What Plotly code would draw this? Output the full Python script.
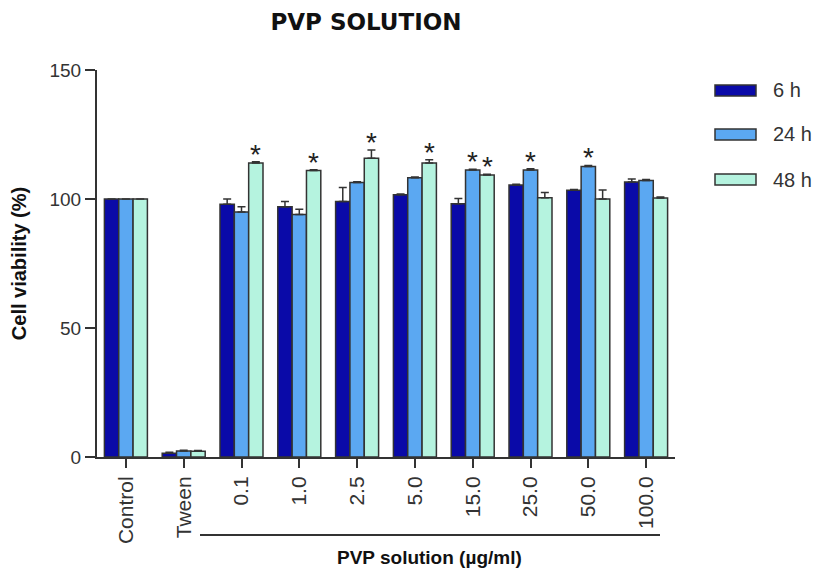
import plotly.graph_objects as go

categories = ["Control", "Tween", "0.1", "1.0", "2.5", "5.0", "15.0", "25.0", "50.0", "100.0"]
series_names = ["6 h", "24 h", "48 h"]

v_6h = [100, 1.5, 98, 97, 99, 101.6, 98.2, 105.4, 103.4, 106.6]
v_24h = [100, 2.3, 95, 94, 106.4, 108.2, 111.2, 111.2, 112.6, 107.2]
v_48h = [100, 2.2, 114, 111, 115.8, 114, 109.3, 100.5, 100, 100.4]

e_6h = [0, 0.3, 2.0, 2.0, 5.5, 0.3, 2.0, 0.3, 0.3, 1.2]
e_24h = [0, 0.3, 2.0, 2.0, 0.3, 0.3, 0.3, 0.5, 0.4, 0.4]
e_48h = [0, 0.3, 0.4, 0.3, 3.2, 1.2, 0.3, 2.0, 3.5, 0.4]

star_6h = [False] * 10
star_24h = [False, False, False, False, False, False, True, True, True, False]
star_48h = [False, False, True, True, True, True, True, False, False, False]

y_ticks = [0, 50, 100, 150]

colors = ["#0a0aa8", "#5ba8f2", "#b5f3df"]
values = [v_6h, v_24h, v_48h]
errors = [e_6h, e_24h, e_48h]
stars = [star_6h, star_24h, star_48h]

# the page body adds an 8px offset; work in screen pixels and compensate
OFF = 8
W, H = 823 - OFF, 576 - OFF
PX_L, PX_R, PX_T, PX_B = 97, 675, 70, 457  # plot area in screen pixels
L, T = PX_L - OFF, PX_T - OFF
R, B = W - (PX_R - OFF), H - (PX_B - OFF)
plot_w = PX_R - PX_L
plot_h = PX_B - PX_T
BARGAP = 0.256
FONT = "Liberation Sans, Arial, sans-serif"
DARK = "#333333"

fig = go.Figure()
for name, vals, errs, col in zip(series_names, values, errors, colors):
    fig.add_trace(go.Bar(
        x=categories, y=vals, name=name,
        marker=dict(color=col, line=dict(color=DARK, width=1.5)),
        error_y=dict(type="data", array=errs, arrayminus=[0] * len(errs),
                     symmetric=False, color=DARK, thickness=1.5, width=4),
        showlegend=False,
    ))

# asterisks
px_per_cat = plot_w / len(categories)
bar_w = (1 - BARGAP) / 3 * px_per_cat
annotations = []
for si, (vals, errs, st) in enumerate(zip(values, errors, stars)):
    for ci in range(len(categories)):
        if st[ci]:
            annotations.append(dict(
                x=ci, y=vals[ci] + errs[ci], xref="x", yref="y",
                text="*", showarrow=False, yanchor="bottom",
                xshift=(si - 1) * bar_w, yshift=-10,
                font=dict(family=FONT, size=28, color="#222222"),
            ))

# manual legend
def px2paper_x(px):
    return (px - PX_L) / plot_w

def px2paper_y(py):
    return (PX_B - py) / plot_h

shapes = []
legend_rows = [(85, 96), (129, 140), (174, 185)]
for (y0, y1), col, name in zip(legend_rows, colors, series_names):
    shapes.append(dict(type="rect", xref="paper", yref="paper",
                       x0=px2paper_x(715), x1=px2paper_x(756),
                       y0=px2paper_y(y1), y1=px2paper_y(y0),
                       fillcolor=col, line=dict(color=DARK, width=1.5)))
    annotations.append(dict(x=px2paper_x(771), y=px2paper_y((y0 + y1) / 2),
                            xref="paper", yref="paper", text=name, showarrow=False,
                            xanchor="left", yanchor="middle",
                            font=dict(family=FONT, size=20, color=DARK)))

# bracket under PVP groups
shapes.append(dict(type="line", xref="paper", yref="paper",
                   x0=px2paper_x(200), x1=px2paper_x(660),
                   y0=px2paper_y(535), y1=px2paper_y(535),
                   line=dict(color=DARK, width=2)))
annotations.append(dict(x=px2paper_x(429), y=px2paper_y(557), xref="paper", yref="paper",
                        text="<b>PVP solution (µg/ml)</b>", showarrow=False,
                        xanchor="center", yanchor="middle",
                        font=dict(family=FONT, size=19, color="#111111")))

fig.update_layout(
    width=W, height=H,
    margin=dict(l=L, r=R, t=T, b=B, autoexpand=False),
    paper_bgcolor="white", plot_bgcolor="white",
    barmode="group", bargap=BARGAP, bargroupgap=0,
    title=dict(text="<b>PVP SOLUTION</b>", x=(366 - OFF) / W, xanchor="center",
               y=1 - (22 - OFF) / H, yanchor="middle",
               font=dict(family="DejaVu Sans, sans-serif", size=23, color="#111111")),
    shapes=shapes, annotations=annotations,
    showlegend=False,
)
fig.update_xaxes(type="category", range=[-0.5, len(categories) - 0.5],
                 automargin=False,
                 showline=True, linecolor=DARK, linewidth=2,
                 ticks="outside", ticklen=9, tickwidth=2, tickcolor=DARK,
                 tickangle=-90, showgrid=False,
                 tickfont=dict(family=FONT, size=21, color=DARK))
fig.update_yaxes(range=[0, 150], tickvals=y_ticks, automargin=False,
                 showline=True, linecolor=DARK, linewidth=2,
                 ticks="outside", ticklen=10, tickwidth=2, tickcolor=DARK,
                 showgrid=False, zeroline=False,
                 tickfont=dict(family=FONT, size=19, color=DARK),
                 title=dict(text="<b>Cell viability (%)</b>", standoff=20,
                            font=dict(family=FONT, size=20, color="#111111")))

fig.write_html("out.html")
